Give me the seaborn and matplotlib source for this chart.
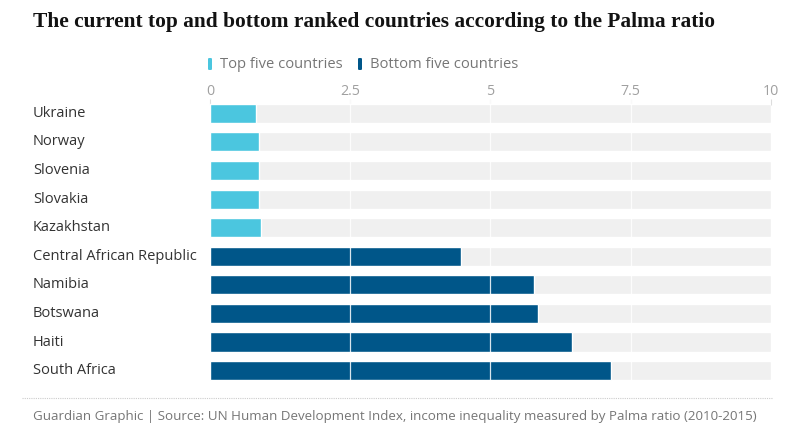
import matplotlib
matplotlib.use("Agg")
import matplotlib.pyplot as plt
import matplotlib.transforms as mtransforms
import seaborn as sns
import pandas as pd

countries = ["Ukraine", "Norway", "Slovenia", "Slovakia", "Kazakhstan",
             "Central African Republic", "Namibia", "Botswana", "Haiti", "South Africa"]
palma = [0.82, 0.88, 0.88, 0.88, 0.91, 4.48, 5.77, 5.84, 6.45, 7.14]
groups = ["Top five countries"] * 5 + ["Bottom five countries"] * 5
xticks = [0, 2.5, 5, 7.5, 10]
xtick_labels = ["0", "2.5", "5", "7.5", "10"]
max_value = 10

colors = {"Top five countries": "#4bc6df", "Bottom five countries": "#005689"}

df = pd.DataFrame({"country": countries, "palma": palma, "group": groups,
                   "full": [max_value] * len(countries)})

sns.set_theme(style="white")
plt.rcParams["font.family"] = ["Open Sans", "DejaVu Sans"]

fig = plt.figure(figsize=(8, 4.44), dpi=100)
ax = fig.add_axes([0.2625, 0.133, 0.7012, 0.644])

sns.barplot(data=df, y="country", x="full", color="#f0f0f0", width=0.67,
            ax=ax, zorder=1, saturation=1, legend=False)
sns.barplot(data=df, y="country", x="palma", hue="group", palette=colors,
            width=0.67, ax=ax, zorder=2, saturation=1, dodge=False, legend=False)

for xv in xticks[1:-1]:
    ax.axvline(xv, color="white", lw=0.9, alpha=0.85, zorder=3)

ax.set_xlim(0, max_value)
ax.set_ylim(len(countries) - 0.5, -0.5)
ax.xaxis.tick_top()
ax.set_xticks(xticks)
ax.set_xticklabels(xtick_labels, color="#a0a0a0", fontsize=10.3)
ax.tick_params(axis="x", direction="in", length=4, width=0.8, color="#dddddd", pad=0)
ax.set_yticks(range(len(countries)))
ax.set_yticklabels([])
ax.tick_params(axis="y", length=0)
ax.set_xlabel("")
ax.set_ylabel("")
for s in ax.spines.values():
    s.set_visible(False)

trans = mtransforms.blended_transform_factory(fig.transFigure, ax.transData)
for i, c in enumerate(countries):
    ax.text(33 / 800, i, c, transform=trans, ha="left", va="center",
            fontsize=10.5, color="#333333")

fig.text(33 / 800, 1 - 22 / 444, "The current top and bottom ranked countries according to the Palma ratio",
         fontsize=15.4, fontweight="bold", family=["Liberation Serif", "DejaVu Serif"],
         color="#121212", ha="left", va="center")

# legend
ly = 1 - 64 / 444
leg_items = [("Top five countries", 208), ("Bottom five countries", 358)]
for label, xpx in leg_items:
    fig.patches.append(matplotlib.patches.FancyBboxPatch(
        (xpx / 800, ly - 6 / 444), 4 / 800, 12 / 444,
        boxstyle="round,pad=0,rounding_size=0.002", transform=fig.transFigure,
        facecolor=colors[label], edgecolor="none"))
    fig.text((xpx + 12) / 800, ly, label, fontsize=10.6, color="#767676",
             ha="left", va="center")

# separator
fig.add_artist(plt.Line2D([22 / 800, 772 / 800], [1 - 398 / 444] * 2,
                          transform=fig.transFigure, color="#cccccc",
                          lw=0.8, linestyle=(0, (1, 1))))
fig.text(33 / 800, 1 - 416 / 444,
         "Guardian Graphic | Source: UN Human Development Index, income inequality measured by Palma ratio (2010-2015)",
         fontsize=9.65, color="#767676", ha="left", va="center")

fig.savefig("out.png", dpi=100, facecolor="white")
